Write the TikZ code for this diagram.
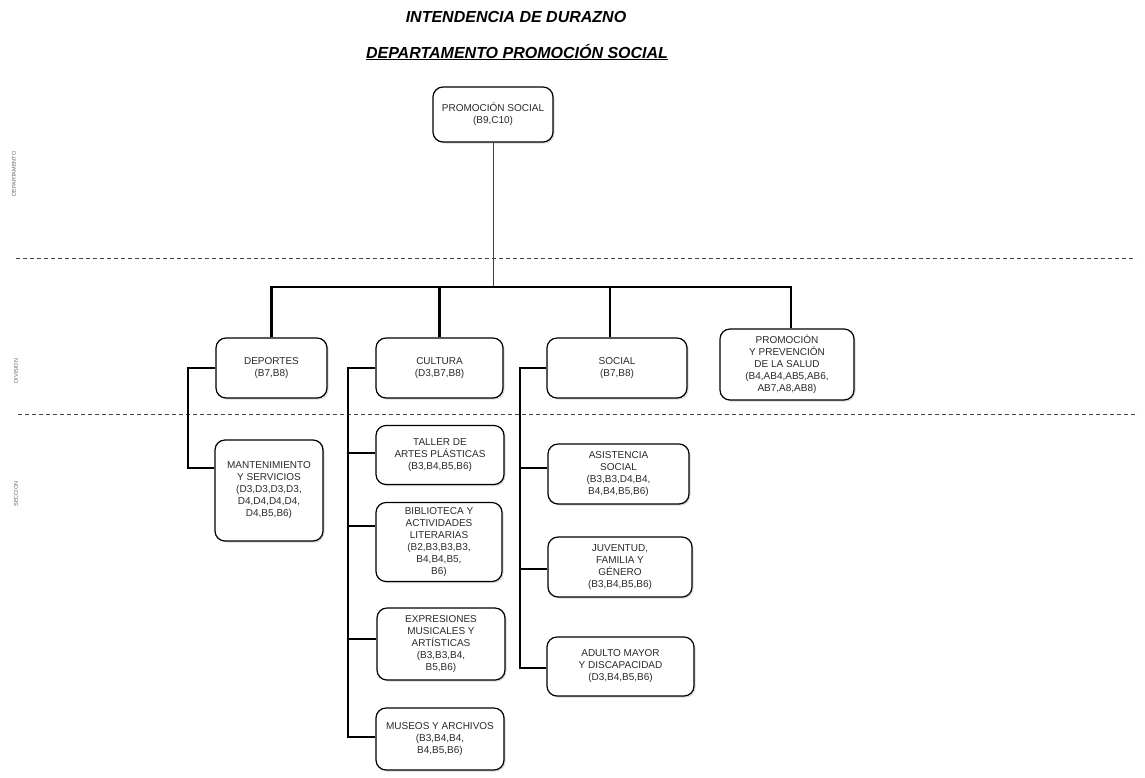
\documentclass[tikz,border=0pt]{standalone}
\usepackage{fontspec}
\setmainfont{Liberation Sans}
\usetikzlibrary{shadows}
\definecolor{txt}{HTML}{2A2A2A}
\definecolor{sepcol}{HTML}{444444}
\begin{document}
\begin{tikzpicture}[x=1pt,y=-1pt,
  box/.style={draw=black, line width=1.2pt, rounded corners=10pt, fill=white, align=center,
    text=txt, font=\fontsize{10}{12}\selectfont, inner sep=2pt,
    drop shadow={shadow xshift=1.5pt, shadow yshift=-1.5pt, opacity=0.3}},
  conn/.style={line width=2.2pt, black, line join=miter},
  thinconn/.style={line width=1pt, black!75},
  sepline/.style={line width=0.9pt, sepcol, dash pattern=on 4pt off 3pt},
  side/.style={rotate=90, font=\fontsize{5.5}{6}\selectfont, text=black!60},
  ttl/.style={font=\fontsize{16}{18}\selectfont\bfseries\itshape, anchor=base}]
\useasboundingbox (0,0) rectangle (1145,777);
\fill[white] (0,0) rectangle (1145,777);

% titles
\node[ttl] (t1) at (516,22) {INTENDENCIA DE DURAZNO};
\node[ttl] (t2) at (517,58) {\underline{DEPARTAMENTO PROMOCIÓN SOCIAL}};

% side labels
\node[side] (l1) at (14,174) {DEPARTAMENTO};
\node[side] (l2) at (16,371) {DIVISION};
\node[side] (l3) at (16,494) {SECCION};

% separators
\coordinate (s1a) at (16,258); \coordinate (s1b) at (1136,258);
\coordinate (s2a) at (18,414); \coordinate (s2b) at (1138,414);
\draw[sepline] (s1a) -- (s1b);
\draw[sepline] (s2a) -- (s2b);

% boxes
\node[box, minimum width=120, minimum height=55] (ps) at (493,114.5) {PROMOCIÓN SOCIAL\\(B9,C10)};
\node[box, minimum width=111, minimum height=60] (dep) at (271.5,368) {DEPORTES\\(B7,B8)};
\node[box, minimum width=127, minimum height=60] (cul) at (439.5,368) {CULTURA\\(D3,B7,B8)};
\node[box, minimum width=140, minimum height=60] (soc) at (617,368) {SOCIAL\\(B7,B8)};
\node[box, minimum width=134, minimum height=71] (pps) at (787,364.5) {PROMOCIÓN\\Y PREVENCIÓN\\DE LA SALUD\\(B4,AB4,AB5,AB6,\\AB7,A8,AB8)};
\node[box, minimum width=108, minimum height=101] (man) at (269,490.5) {MANTENIMIENTO\\Y SERVICIOS\\(D3,D3,D3,D3,\\D4,D4,D4,D4,\\D4,B5,B6)};
\node[box, minimum width=128, minimum height=59] (tal) at (440,455) {TALLER DE\\ARTES PLÁSTICAS\\(B3,B4,B5,B6)};
\node[box, minimum width=126, minimum height=79] (bib) at (439,542) {BIBLIOTECA Y\\ACTIVIDADES\\LITERARIAS\\(B2,B3,B3,B3,\\B4,B4,B5,\\B6)};
\node[box, minimum width=128, minimum height=72] (exp) at (441,644) {EXPRESIONES\\MUSICALES Y\\ARTÍSTICAS\\(B3,B3,B4,\\B5,B6)};
\node[box, minimum width=128, minimum height=62] (mus) at (440,739) {MUSEOS Y ARCHIVOS\\(B3,B4,B4,\\B4,B5,B6)};
\node[box, minimum width=141, minimum height=60] (asi) at (618.5,474) {ASISTENCIA\\SOCIAL\\(B3,B3,D4,B4,\\B4,B4,B5,B6)};
\node[box, minimum width=144, minimum height=60] (juv) at (620,567) {JUVENTUD,\\FAMILIA Y\\GÉNERO\\(B3,B4,B5,B6)};
\node[box, minimum width=147, minimum height=59] (adu) at (620.5,666.5) {ADULTO MAYOR\\Y DISCAPACIDAD\\(D3,B4,B5,B6)};

% top connector
\coordinate (bar) at (493,287);
\coordinate (ppsin) at ([xshift=4pt]pps.north);
\draw[thinconn] (ps.south) -- (bar);
\draw[conn] (dep.north) -- (dep.north |- bar) -- (ppsin |- bar) -- (ppsin);
\draw[conn] (cul.north) -- (cul.north |- bar);
\coordinate (socin) at ([xshift=-7pt]soc.north);
\draw[conn] (socin) -- (socin |- bar);

% entry points
\coordinate (manin) at ([yshift=22.5pt]man.west);
\coordinate (talin) at ([yshift=2pt]tal.west);
\coordinate (bibin) at ([yshift=16pt]bib.west);
\coordinate (expin) at ([yshift=5pt]exp.west);
\coordinate (musin) at ([yshift=2pt]mus.west);
\coordinate (asiin) at ([yshift=6pt]asi.west);
\coordinate (juvin) at ([yshift=-2pt]juv.west);
\coordinate (aduin) at ([yshift=-1.5pt]adu.west);

% deportes
\coordinate (dtr) at (188,369);
\draw[conn] (dep.west) -- (dep.west -| dtr) -- (dtr |- manin) -- (manin);

% cultura
\coordinate (ctr) at (348,369);
\draw[conn] (cul.west) -- (cul.west -| ctr) -- (ctr |- musin) -- (musin);
\draw[conn] (ctr |- talin) -- (talin);
\draw[conn] (ctr |- bibin) -- (bibin);
\draw[conn] (ctr |- expin) -- (expin);

% social
\coordinate (str) at (520,369);
\draw[conn] (soc.west) -- (soc.west -| str) -- (str |- aduin) -- (aduin);
\draw[conn] (str |- asiin) -- (asiin);
\draw[conn] (str |- juvin) -- (juvin);
\end{tikzpicture}
\end{document}
